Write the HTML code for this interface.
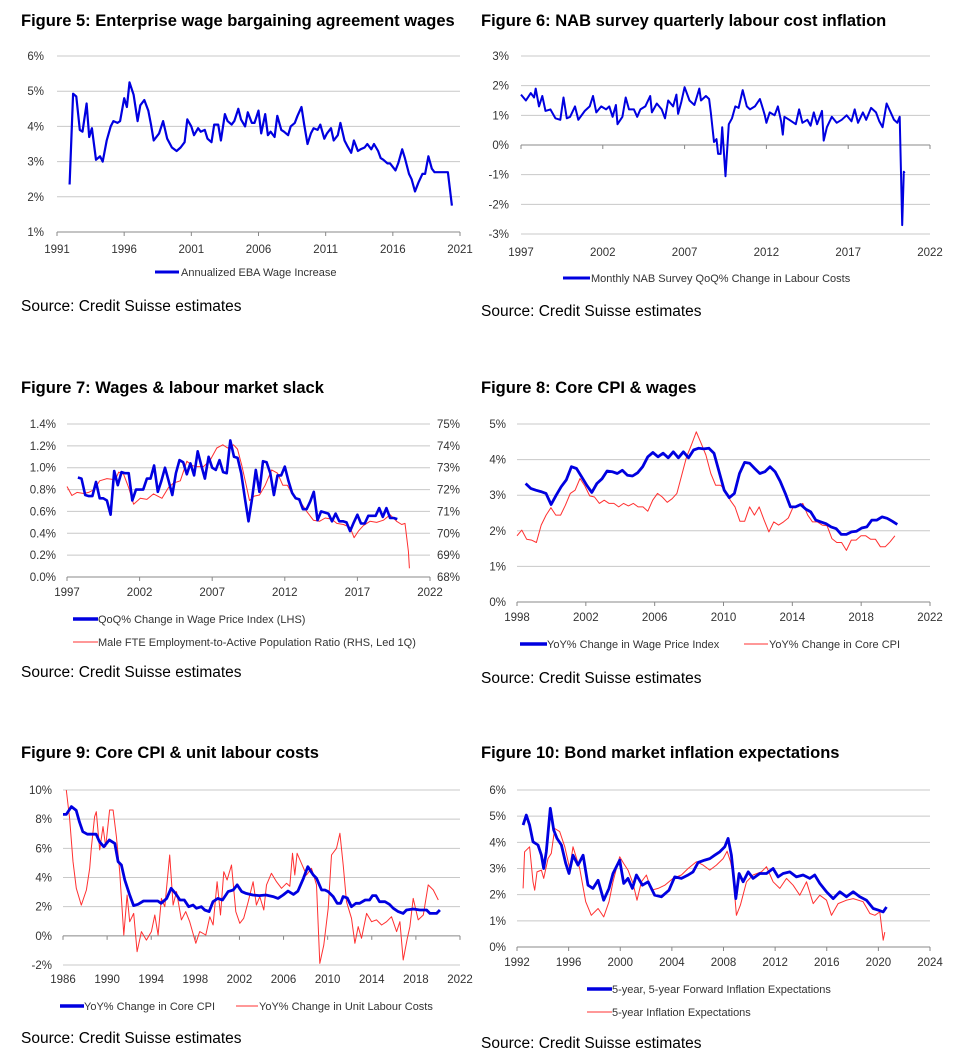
<!DOCTYPE html>
<html><head><meta charset="utf-8"><style>
body{margin:0;background:#fff;}
svg{display:block;font-family:"Liberation Sans",Arial,sans-serif;}
.t{font-weight:bold;font-size:16.5px;fill:#000;}
.s{font-size:15.5px;fill:#000;}
.tk{font-size:11.5px;fill:#333;}
.lg{font-size:11px;fill:#333;}
</style></head><body>
<svg id="page" width="958" height="1061" viewBox="0 0 958 1061">
<text class="t" x="21" y="26">Figure 5: Enterprise wage bargaining agreement wages</text>
<text class="t" x="481" y="26">Figure 6: NAB survey quarterly labour cost inflation</text>
<text class="t" x="21" y="393">Figure 7: Wages &amp; labour market slack</text>
<text class="t" x="481" y="393">Figure 8: Core CPI &amp; wages</text>
<text class="t" x="21" y="758">Figure 9: Core CPI &amp; unit labour costs</text>
<text class="t" x="481" y="758">Figure 10: Bond market inflation expectations</text>
<text class="s" x="21" y="311">Source: Credit Suisse estimates</text>
<text class="s" x="481" y="316">Source: Credit Suisse estimates</text>
<text class="s" x="21" y="677">Source: Credit Suisse estimates</text>
<text class="s" x="481" y="683">Source: Credit Suisse estimates</text>
<text class="s" x="21" y="1043">Source: Credit Suisse estimates</text>
<text class="s" x="481" y="1048">Source: Credit Suisse estimates</text>

<line x1="155" y1="272" x2="179" y2="272" stroke="#0000e0" stroke-width="3"/>
<text class="lg" x="181" y="276">Annualized EBA Wage Increase</text>
<line x1="563" y1="278" x2="590" y2="278" stroke="#0000e0" stroke-width="3"/>
<text class="lg" x="591" y="282">Monthly NAB Survey QoQ% Change in Labour Costs</text>
<line x1="73" y1="619" x2="98" y2="619" stroke="#0000e0" stroke-width="3.5"/>
<text class="lg" x="98" y="623">QoQ% Change in Wage Price Index (LHS)</text>
<line x1="73" y1="642" x2="98" y2="642" stroke="#ff3030" stroke-width="1"/>
<text class="lg" x="98" y="646">Male FTE Employment-to-Active Population Ratio (RHS, Led 1Q)</text>
<line x1="520" y1="644" x2="547" y2="644" stroke="#0000e0" stroke-width="3.5"/>
<text class="lg" x="547" y="648">YoY% Change in Wage Price Index</text>
<line x1="744" y1="644" x2="768" y2="644" stroke="#ff3030" stroke-width="1"/>
<text class="lg" x="769" y="648">YoY% Change in Core CPI</text>
<line x1="60" y1="1006" x2="84" y2="1006" stroke="#0000e0" stroke-width="3.5"/>
<text class="lg" x="84" y="1010">YoY% Change in Core CPI</text>
<line x1="236" y1="1006" x2="258" y2="1006" stroke="#ff3030" stroke-width="1"/>
<text class="lg" x="259" y="1010">YoY% Change in Unit Labour Costs</text>
<line x1="587" y1="989" x2="612" y2="989" stroke="#0000e0" stroke-width="3.5"/>
<text class="lg" x="612" y="993">5-year, 5-year Forward Inflation Expectations</text>
<line x1="587" y1="1012" x2="612" y2="1012" stroke="#ff3030" stroke-width="1"/>
<text class="lg" x="612" y="1016">5-year Inflation Expectations</text>
</svg>
<script>
// ---- Figure 5 data ----
const f5Years=[1991.94,1992.2,1992.44,1992.7,1992.9,1993.2,1993.4,1993.6,1993.9,1994.2,1994.4,1994.7,1995,1995.2,1995.5,1995.7,1996,1996.2,1996.4,1996.7,1997,1997.2,1997.5,1997.8,1998,1998.2,1998.6,1998.9,1999.2,1999.55,1999.9,2000.2,2000.5,2000.7,2001,2001.2,2001.5,2001.7,2002,2002.2,2002.5,2002.7,2003,2003.2,2003.5,2003.7,2004,2004.2,2004.5,2004.7,2005,2005.2,2005.5,2005.7,2006,2006.2,2006.5,2006.7,2006.9,2007.2,2007.4,2007.7,2007.9,2008.2,2008.4,2008.7,2008.9,2009.2,2009.4,2009.65,2009.9,2010.1,2010.4,2010.6,2010.9,2011.1,2011.4,2011.6,2011.9,2012.1,2012.4,2012.6,2012.9,2013.1,2013.4,2013.6,2013.9,2014.1,2014.4,2014.6,2014.9,2015.1,2015.3,2015.6,2015.8,2016.2,2016.4,2016.7,2016.9,2017.2,2017.4,2017.65,2017.9,2018.2,2018.4,2018.65,2018.9,2019.1,2019.5,2020.1,2020.4];
const f5Values=[2.35,4.93,4.85,3.9,3.85,4.65,3.7,3.95,3.05,3.15,3.0,3.6,4.0,4.15,4.1,4.15,4.8,4.55,5.25,4.9,4.15,4.6,4.75,4.45,4.05,3.6,3.8,4.15,3.65,3.4,3.3,3.4,3.55,4.2,4.0,3.75,3.95,3.85,3.9,3.65,3.55,4.05,4.05,3.6,4.35,4.15,4.05,4.15,4.5,4.2,4.0,4.4,4.1,4.1,4.45,3.8,4.35,3.75,3.85,3.7,4.3,3.9,3.85,3.75,4.0,4.1,4.3,4.55,4.05,3.5,3.8,3.95,3.9,4.05,3.65,3.8,3.95,3.6,3.75,4.1,3.6,3.45,3.25,3.6,3.3,3.35,3.4,3.5,3.35,3.5,3.3,3.1,3.05,2.95,2.95,2.75,2.95,3.35,3.1,2.65,2.5,2.15,2.4,2.65,2.65,3.15,2.8,2.7,2.7,2.7,1.75];
const f5YTicks=[1,2,3,4,5,6];
const f5XTicks=[1991,1996,2001,2006,2011,2016,2021];
// ---- Figure 6 data ----
const f6Years=[1997.0,1997.3,1997.6,1997.8,1997.9,1998.1,1998.3,1998.5,1998.8,1999.1,1999.4,1999.6,1999.8,2000.0,2000.3,2000.5,2000.9,2001.2,2001.4,2001.6,2001.9,2002.2,2002.4,2002.6,2002.8,2002.9,2003.2,2003.4,2003.6,2003.9,2004.1,2004.3,2004.6,2004.9,2005.0,2005.3,2005.6,2005.8,2006.0,2006.3,2006.5,2006.6,2006.8,2007.0,2007.3,2007.6,2007.9,2008.0,2008.3,2008.5,2008.6,2008.8,2008.95,2009.05,2009.2,2009.3,2009.5,2009.7,2009.9,2010.1,2010.3,2010.55,2010.8,2011.0,2011.3,2011.6,2011.8,2011.9,2012.0,2012.2,2012.5,2012.7,2012.9,2013.0,2013.1,2013.4,2013.8,2014.0,2014.2,2014.5,2014.7,2014.9,2015.1,2015.4,2015.5,2015.7,2016.0,2016.3,2016.6,2016.9,2017.2,2017.4,2017.6,2017.9,2018.1,2018.4,2018.7,2018.9,2019.1,2019.35,2019.6,2019.8,2020.0,2020.15,2020.3,2020.4,2020.45];
const f6Values=[1.7,1.5,1.75,1.6,1.9,1.3,1.65,1.15,1.2,0.9,0.85,1.6,0.9,0.95,1.3,0.85,1.15,1.3,1.65,1.1,1.3,1.2,1.3,0.95,1.35,0.7,0.95,1.6,1.2,1.2,0.95,1.2,1.3,1.65,1.1,1.4,1.2,0.9,1.5,1.3,1.7,1.05,1.45,1.95,1.5,1.35,1.9,1.5,1.65,1.55,1.1,0.1,0.2,-0.3,-0.3,0.6,-1.05,0.7,0.9,1.3,1.25,1.85,1.3,1.2,1.3,1.55,1.2,1.0,0.75,1.1,1.0,1.3,0.8,0.35,0.95,0.85,0.7,1.2,0.75,0.85,0.65,1.1,0.7,1.15,0.15,0.6,0.95,0.75,0.85,1.0,0.8,1.2,0.75,1.1,0.85,1.25,1.1,0.8,0.6,1.4,1.1,0.85,0.75,0.95,-2.7,-0.9,-0.95];
const f6YTicks=[-3,-2,-1,0,1,2,3];
const f6XTicks=[1997,2002,2007,2012,2017,2022];
// ---- Figure 7 data ----
const f7WpiStart=1997.75;
const f7WpiValues=[0.91,0.9,0.75,0.74,0.74,0.87,0.72,0.72,0.7,0.57,0.97,0.84,0.96,0.95,0.95,0.7,0.8,0.8,0.8,0.9,0.9,1.02,0.78,0.88,1.0,0.88,0.75,0.95,1.07,1.05,0.94,1.04,0.93,1.15,1.02,0.9,1.1,1.0,0.98,1.07,0.96,0.95,1.25,1.1,1.09,0.95,0.72,0.51,0.72,0.98,0.78,1.06,1.05,0.95,0.75,0.93,0.93,1.01,0.88,0.77,0.72,0.71,0.62,0.62,0.69,0.78,0.52,0.6,0.59,0.58,0.51,0.58,0.51,0.51,0.5,0.42,0.5,0.57,0.49,0.49,0.56,0.56,0.56,0.63,0.55,0.63,0.54,0.54,0.53];
const f7EmpYears=[1997.0,1997.34,1997.69,1998.15,1998.49,1998.88,1999.25,1999.75,2000.33,2000.56,2000.9,2001.24,2001.59,2002.05,2002.5,2002.96,2003.54,2004.0,2004.34,2004.8,2005.26,2005.6,2005.94,2006.4,2006.86,2007.32,2007.73,2008.06,2008.47,2008.74,2009.04,2009.34,2009.57,2009.89,2010.26,2010.65,2011.1,2011.5,2011.86,2012.18,2012.55,2013.06,2013.51,2013.97,2014.39,2014.78,2015.23,2015.58,2016.04,2016.5,2016.77,2017.07,2017.41,2017.87,2018.33,2018.79,2019.25,2019.7,2020.05,2020.28,2020.51,2020.58];
const f7EmpValues=[72.14,71.73,71.87,71.82,71.87,72.0,72.4,72.5,72.45,72.8,72.7,72.1,71.33,71.6,71.55,71.8,71.6,72.1,72.3,72.4,73.3,73.1,73.05,73.05,73.35,73.9,74.05,73.9,74.05,73.85,73.1,72.2,71.5,71.7,71.75,72.2,72.9,72.75,72.2,72.2,71.75,71.45,71.0,70.6,70.55,70.7,70.65,70.45,70.4,70.27,69.8,70.1,70.35,70.55,70.5,70.6,70.85,70.55,70.4,70.45,69.17,68.4];
const f7LeftTicks=[0,0.2,0.4,0.6,0.8,1.0,1.2,1.4];
const f7RightTicks=[68,69,70,71,72,73,74,75];
const f7XTicks=[1997,2002,2007,2012,2017,2022];
// ---- Figure 8 data ----
const f8WpiRange=[1998.5,2020.1];
const f8WpiValues=[3.33,3.19,3.14,3.1,3.05,2.74,3.0,3.24,3.43,3.8,3.75,3.52,3.28,3.08,3.33,3.46,3.68,3.66,3.61,3.7,3.56,3.54,3.63,3.8,4.08,4.2,4.08,4.18,4.05,4.22,4.05,4.22,4.05,4.27,4.32,4.3,4.32,4.18,3.66,3.14,2.93,3.05,3.61,3.92,3.9,3.75,3.61,3.66,3.8,3.66,3.39,3.05,2.67,2.67,2.74,2.61,2.53,2.3,2.25,2.2,2.11,2.06,1.9,1.9,1.97,1.99,2.08,2.11,2.3,2.3,2.39,2.35,2.27,2.18];
const f8CpiRange=[1998.0,2019.96];
const f8CpiValues=[1.86,2.02,1.76,1.74,1.67,2.16,2.44,2.65,2.44,2.44,2.72,3.05,3.14,3.47,3.26,2.98,2.95,2.77,2.86,2.77,2.77,2.67,2.77,2.7,2.77,2.67,2.67,2.55,2.86,3.05,2.95,2.8,2.9,3.05,3.56,4.08,4.41,4.78,4.46,4.13,3.61,3.28,3.28,3.14,2.86,2.67,2.27,2.27,2.67,2.44,2.67,2.3,1.97,2.25,2.16,2.25,2.36,2.67,2.67,2.77,2.44,2.25,2.25,2.16,2.14,1.78,1.67,1.67,1.45,1.74,1.74,1.86,1.86,1.76,1.76,1.55,1.55,1.69,1.86];
const f8YTicks=[0,1,2,3,4,5];
const f8XTicks=[1998,2002,2006,2010,2014,2018,2022];
// ---- Figure 9 data ----
const f9CpiYears=[1986.0,1986.3,1986.76,1987.2,1987.5,1987.8,1988.2,1989.0,1989.3,1989.7,1989.9,1990.2,1990.7,1991.0,1991.3,1991.6,1992.05,1992.4,1992.8,1993.3,1993.9,1994.6,1994.9,1995.4,1995.8,1996.2,1996.6,1997.0,1997.4,1997.8,1998.1,1998.55,1998.85,1999.25,1999.6,2000.05,2000.46,2000.97,2001.43,2001.8,2002.2,2002.6,2003.2,2003.8,2004.4,2005.05,2005.5,2005.96,2006.4,2006.9,2007.3,2007.8,2008.2,2008.7,2009.0,2009.45,2009.75,2010.05,2010.5,2010.86,2011.17,2011.4,2011.77,2012.16,2012.56,2012.9,2013.4,2013.8,2014.07,2014.37,2014.7,2015.2,2015.6,2015.95,2016.4,2016.85,2017.15,2017.76,2018.37,2018.97,2019.27,2019.88,2020.18];
const f9CpiValues=[8.33,8.33,8.86,8.6,7.8,7.14,6.97,6.97,6.46,6.11,6.3,6.57,6.34,5.09,4.86,3.83,2.8,2.07,2.16,2.39,2.39,2.39,2.23,2.57,3.26,2.91,2.46,2.46,2.0,2.11,1.89,2.0,1.77,1.66,2.34,2.57,2.46,3.03,3.14,3.49,3.03,2.91,2.8,2.76,2.8,2.69,2.57,2.8,3.07,2.84,3.07,3.94,4.74,4.17,3.94,3.14,3.14,3.03,2.69,2.23,2.23,2.69,2.6,2.0,2.23,2.23,2.46,2.46,2.76,2.76,2.34,2.34,2.16,1.89,1.66,1.54,1.77,1.84,1.77,1.77,1.54,1.54,1.77];
const f9UlcYears=[1986.3,1986.6,1986.91,1987.21,1987.66,1988.12,1988.42,1988.57,1988.87,1989.02,1989.33,1989.63,1989.87,1990.23,1990.54,1990.84,1991.14,1991.51,1991.81,1992.05,1992.41,1992.72,1993.11,1993.56,1994.02,1994.32,1994.62,1994.92,1995.23,1995.68,1995.98,1996.29,1996.74,1997.13,1997.49,1998.04,1998.4,1998.95,1999.31,1999.61,1999.97,2000.28,2000.58,2000.88,2001.28,2001.67,2002.03,2002.39,2002.79,2003.24,2003.54,2003.85,2004.21,2004.45,2004.9,2005.36,2005.81,2006.27,2006.57,2006.81,2007.02,2007.23,2007.63,2008.08,2008.53,2008.99,2009.29,2009.65,2010.05,2010.35,2010.8,2011.11,2011.41,2011.71,2012.16,2012.47,2012.77,2013.07,2013.53,2013.98,2014.43,2014.89,2015.34,2015.79,2016.25,2016.55,2016.85,2017.22,2017.46,2017.76,2018.21,2018.67,2019.12,2019.58,2020.03];
const f9UlcValues=[10,8.06,5.09,3.26,2.11,3.14,4.63,6.0,8.17,8.51,5.89,7.49,6.11,8.63,8.63,6.8,4.4,0.06,2.8,0.97,1.54,-1.09,0.29,-0.29,0.29,1.43,0.06,2.57,2.0,5.54,2.11,3.03,1.09,1.66,0.97,-0.51,0.29,0.06,1.31,0.74,3.71,1.43,4.4,3.83,4.86,1.66,0.86,1.2,2.34,3.71,2.11,2.69,1.77,3.49,4.29,3.71,3.26,3.6,3.4,5.66,4.17,5.66,4.97,4.17,4.63,3.49,-1.89,-0.63,1.89,5.54,6.0,7.03,4.86,2.34,1.2,-0.51,0.63,-0.17,1.54,0.97,1.09,0.74,0.97,1.31,0.29,0.97,-1.66,-0.17,0.63,2.57,1.09,1.43,3.49,3.14,2.46];
const f9YTicks=[-2,0,2,4,6,8,10];
const f9XTicks=[1986,1990,1994,1998,2002,2006,2010,2014,2018,2022];
// ---- Figure 10 data ----
const f10FwdYears=[1992.47,1992.72,1992.98,1993.24,1993.63,1993.89,1994.07,1994.27,1994.58,1994.84,1995.1,1995.44,1995.77,1996.03,1996.34,1996.73,1997.12,1997.5,1997.89,1998.28,1998.72,1999.13,1999.44,1999.96,2000.27,2000.6,2000.94,2001.25,2001.72,2002.16,2002.67,2003.19,2003.78,2004.22,2004.74,2005.26,2005.64,2006.03,2006.55,2006.94,2007.32,2007.71,2008.1,2008.36,2008.61,2008.95,2009.21,2009.52,2009.91,2010.29,2010.81,2011.33,2011.84,2012.23,2012.62,2013.14,2013.65,2014.17,2014.69,2015.07,2015.46,2015.98,2016.5,2017.01,2017.53,2018.05,2018.56,2019.08,2019.6,2019.98,2020.37,2020.63];
const f10FwdValues=[4.66,5.04,4.66,4.02,3.9,3.51,3.0,3.64,5.3,4.47,4.15,3.9,3.2,2.81,3.51,3.13,3.51,2.36,2.24,2.55,1.79,2.24,2.81,3.32,2.43,2.62,2.24,2.75,2.36,2.49,1.98,1.92,2.17,2.68,2.62,2.75,2.87,3.23,3.32,3.38,3.51,3.64,3.83,4.15,3.51,1.85,2.81,2.49,2.87,2.62,2.81,2.81,3.0,2.68,2.81,2.87,2.68,2.75,2.62,2.75,2.43,2.11,1.85,2.11,1.92,2.11,1.92,1.79,1.47,1.41,1.34,1.53];
const f10FiveYears=[1992.47,1992.59,1992.98,1993.24,1993.37,1993.55,1993.89,1994.07,1994.4,1994.66,1994.92,1995.31,1995.7,1996.08,1996.34,1996.86,1997.32,1997.76,1998.28,1998.72,1999.13,1999.44,1999.7,1999.96,2000.27,2000.6,2000.99,2001.3,2001.64,2002.03,2002.41,2002.93,2003.45,2004.09,2004.74,2005.26,2005.9,2006.42,2006.94,2007.45,2007.97,2008.28,2008.54,2008.74,2009.0,2009.31,2009.78,2010.29,2010.94,2011.33,2011.84,2012.36,2012.88,2013.39,2013.91,2014.43,2014.95,2015.46,2015.98,2016.37,2016.88,2017.53,2018.05,2018.82,2019.34,2019.73,2020.11,2020.37,2020.5];
const f10FiveValues=[2.24,3.64,3.83,2.49,2.17,2.87,2.94,2.62,3.38,3.58,4.53,4.41,3.83,3.0,3.83,3.0,1.73,1.21,1.47,1.15,1.73,2.49,3.0,3.45,3.19,2.94,2.43,1.79,2.49,2.75,2.17,2.24,2.36,2.62,2.75,3.0,3.26,3.13,2.94,3.13,3.38,3.66,3.26,2.75,1.21,1.6,2.49,2.75,2.87,3.07,2.49,2.24,2.62,2.36,1.98,2.49,1.66,1.98,1.79,1.21,1.66,1.79,1.85,1.73,1.28,1.21,1.34,0.26,0.57];
const f10YTicks=[0,1,2,3,4,5,6];
const f10XTicks=[1992,1996,2000,2004,2008,2012,2016,2020,2024];

const NS='http://www.w3.org/2000/svg';
const svg=document.getElementById('page');
function mk(tag,attrs,parent){const e=document.createElementNS(NS,tag);for(const k in attrs)e.setAttribute(k,attrs[k]);(parent||svg).appendChild(e);return e;}
function scale(d0,d1,r0,r1){return v=>r0+(v-d0)*(r1-r0)/(d1-d0);}
function fmt(v,dec){return v.toFixed(dec)+'%';}

function axes(id,box,xT,yT,opts){
  const g=mk('g',{});
  
  
  const xs=scale(xT[0],xT[xT.length-1],box.x0,box.x1);
  const ys=scale(yT[0],yT[yT.length-1],box.y1,box.y0);
  yT.forEach(v=>{
    const y=ys(v);
    if(v!==opts.base){const gl=mk('line',{x1:box.x0,x2:box.x1,y1:y,y2:y,stroke:'#c8c8c8','stroke-width':1},g);
      
      }
    const t=mk('text',{x:box.x0-opts.lpad,y:y+4,'text-anchor':'end',class:'tk'},g);
    
    
    t.textContent=fmt(v,opts.dec);
  });
  const ay=ys(opts.base);
  const ax=mk('line',{x1:box.x0,x2:box.x1,y1:ay,y2:ay,stroke:'#888','stroke-width':1},g);
  
  
  xT.forEach(v=>{
    const x=xs(v);
    mk('line',{x1:x,x2:x,y1:ay,y2:ay+4,stroke:'#888','stroke-width':1},g);
    const t=mk('text',{x:x,y:opts.xLabelY,'text-anchor':'middle',class:'tk'},g);
    
    
    t.textContent=v;
  });
  return {xs,ys};
}
function line(name,xsArr,vals,xs,ys,color,w){
  const n=Math.min(xsArr.length,vals.length);
  let d='';
  for(let i=0;i<n;i++){d+=(i?'L':'M')+xs(xsArr[i]).toFixed(1)+' '+ys(vals[i]).toFixed(1);}
  const p=mk('path',{d:d,fill:'none',stroke:color,'stroke-width':w,'stroke-linejoin':'round'});
  
  
}
function spaced(range,n){const a=[];for(let i=0;i<n;i++)a.push(range[0]+i*(range[1]-range[0])/(n-1));return a;}
function quarterly(start,n){const a=[];for(let i=0;i<n;i++)a.push(start+i*0.25);return a;}
const BLUE='#0000e0',RED='#ff3030';

let a=axes('fig5',{x0:57,x1:460,y0:56,y1:232},f5XTicks,f5YTicks,{base:1,dec:0,lpad:13,xLabelY:253});
line('fig5-eba-wage-line',f5Years,f5Values,a.xs,a.ys,BLUE,2.2);
a=axes('fig6',{x0:521,x1:930,y0:56,y1:234},f6XTicks,f6YTicks,{base:0,dec:0,lpad:12,xLabelY:256});
line('fig6-nab-labour-cost-line',f6Years,f6Values,a.xs,a.ys,BLUE,2);
a=axes('fig7',{x0:67,x1:430,y0:424,y1:577},f7XTicks,f7LeftTicks,{base:0,dec:1,lpad:11,xLabelY:596});
const ysR=scale(68,75,577,424);
f7RightTicks.forEach(v=>{const t=mk('text',{x:437,y:ysR(v)+4,class:'tk'});
  
  
  t.textContent=v+'%';});
line('fig7-employment-ratio-line',f7EmpYears,f7EmpValues,a.xs,ysR,RED,1);
line('fig7-wpi-qoq-line',quarterly(f7WpiStart,f7WpiValues.length),f7WpiValues,a.xs,a.ys,BLUE,2.6);
a=axes('fig8',{x0:517,x1:930,y0:424,y1:602},f8XTicks,f8YTicks,{base:0,dec:0,lpad:11,xLabelY:621});
line('fig8-core-cpi-line',spaced(f8CpiRange,f8CpiValues.length),f8CpiValues,a.xs,a.ys,RED,1);
line('fig8-wpi-yoy-line',spaced(f8WpiRange,f8WpiValues.length),f8WpiValues,a.xs,a.ys,BLUE,2.8);
a=axes('fig9',{x0:63,x1:460,y0:790,y1:965},f9XTicks,f9YTicks,{base:0,dec:0,lpad:11,xLabelY:983});
line('fig9-ulc-line',f9UlcYears,f9UlcValues,a.xs,a.ys,RED,1);
line('fig9-core-cpi-line',f9CpiYears,f9CpiValues,a.xs,a.ys,BLUE,2.8);
a=axes('fig10',{x0:517,x1:930,y0:790,y1:947},f10XTicks,f10YTicks,{base:0,dec:0,lpad:11,xLabelY:966});
line('fig10-5y-inflation-line',f10FiveYears,f10FiveValues,a.xs,a.ys,RED,1);
line('fig10-5y5y-forward-line',f10FwdYears,f10FwdValues,a.xs,a.ys,BLUE,2.8);
</script>
</body></html>
